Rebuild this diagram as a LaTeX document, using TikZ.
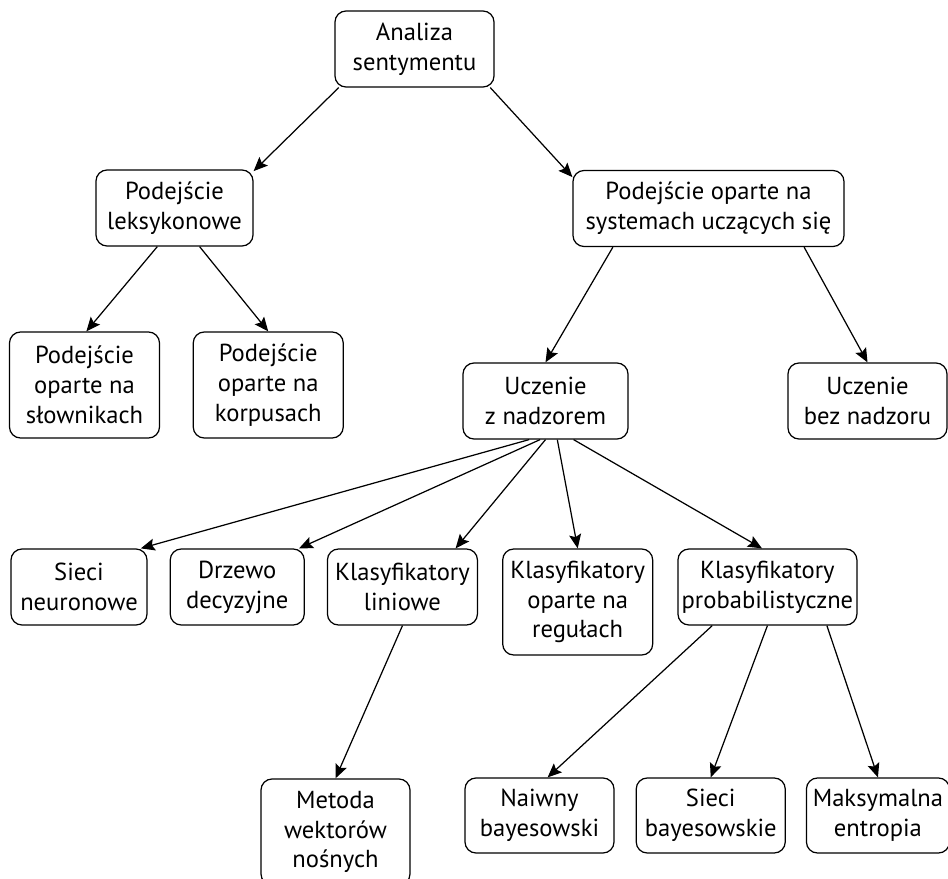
\documentclass[tikz,border=0pt]{standalone}
\usepackage{fontspec}
\setmainfont{PT Sans}
\usepackage{tikz}
\usetikzlibrary{positioning, arrows.meta}

\begin{document}
\begin{tikzpicture}
  \tikzset{
    box/.style={rectangle, rounded corners=0.22cm, draw, line width=0.7pt,
      font=\fontsize{14}{17}\selectfont, align=center, inner sep=2pt,
      minimum height=1.52cm, minimum width=#1},
    box/.default=3cm,
    tall/.style={minimum height=2.12cm},
    link/.style={-{Stealth[length=2.8mm, width=2.4mm, inset=0.5mm]}, line width=0.7pt},
  }
  \useasboundingbox (0,0) rectangle (18.96,-17.58);

  % levels 0 and 1
  \node[box=3.18cm] (root) at (8.29,-0.98) {Analiza\\sentymentu};
  \node[box=3.14cm] (lex) at (3.49,-4.16) {Podejście\\leksykonowe};
  \node[box=5.42cm] (ml) at (14.17,-4.17) {Podejście oparte na\\systemach uczących się};

  % level 2
  \node[box, tall] (slow) at (1.69,-7.70) {Podejście\\oparte na\\słownikach};
  \node[box, tall, right=0.65cm of slow] (korp) {Podejście\\oparte na\\korpusach};
  \node[box=3.30cm] (nadz) at (10.91,-8.02) {Uczenie\\z nadzorem};
  \node[box=3.18cm] (bez) at (17.35,-8.02) {Uczenie\\bez nadzoru};

  % level 3
  \node[box=2.72cm] (neur) at (1.58,-11.74) {Sieci\\neuronowe};
  \node[box=2.68cm, right=0.44cm of neur] (drz) {Drzewo\\decyzyjne};
  \node[box, right=0.44cm of drz] (lin) {Klasyfikatory\\liniowe};
  \node[box, tall, right=0.48cm of lin.north east, anchor=north west] (regu)
        {Klasyfikatory\\oparte na\\regułach};
  \node[box=3.58cm, right=0.48cm of regu.north east, anchor=north west] (prob)
        {Klasyfikatory\\probabilistyczne};

  % level 4
  \node[box=2.98cm, tall] (svm) at (6.71,-16.64) {Metoda\\wektorów\\nośnych};
  \node[box=2.98cm, minimum height=1.50cm] (naiw) at (10.79,-16.31) {Naiwny\\bayesowski};
  \node[box=2.98cm, minimum height=1.50cm, right=0.42cm of naiw] (sbay) {Sieci\\bayesowskie};
  \node[box=2.86cm, minimum height=1.50cm, right=0.40cm of sbay] (maks) {Maksymalna\\entropia};

  \draw[link] (root.207) -- (lex.25);
  \draw[link] (root.333) -- (ml.167);
  \draw[link] (lex.246) -- (slow.88);
  \draw[link] (lex.303) -- (korp.north);
  \draw[link] (ml.202) -- (nadz.north);
  \draw[link] (ml.338) -- (bez.north);
  \draw[link] (nadz.247) -- (neur.32);
  \draw[link] (nadz.262) -- (drz.32);
  \draw[link] (nadz.south) -- (lin.36);
  \draw[link] (nadz.287) -- (regu.north);
  \draw[link] (nadz.306) -- (prob.98);
  \draw[link] (lin.south) -- (svm.north);
  \draw[link] (prob.215) -- (naiw.78);
  \draw[link] (prob.south) -- (sbay.north);
  \draw[link] (prob.327) -- (maks.north);
\end{tikzpicture}
\end{document}
